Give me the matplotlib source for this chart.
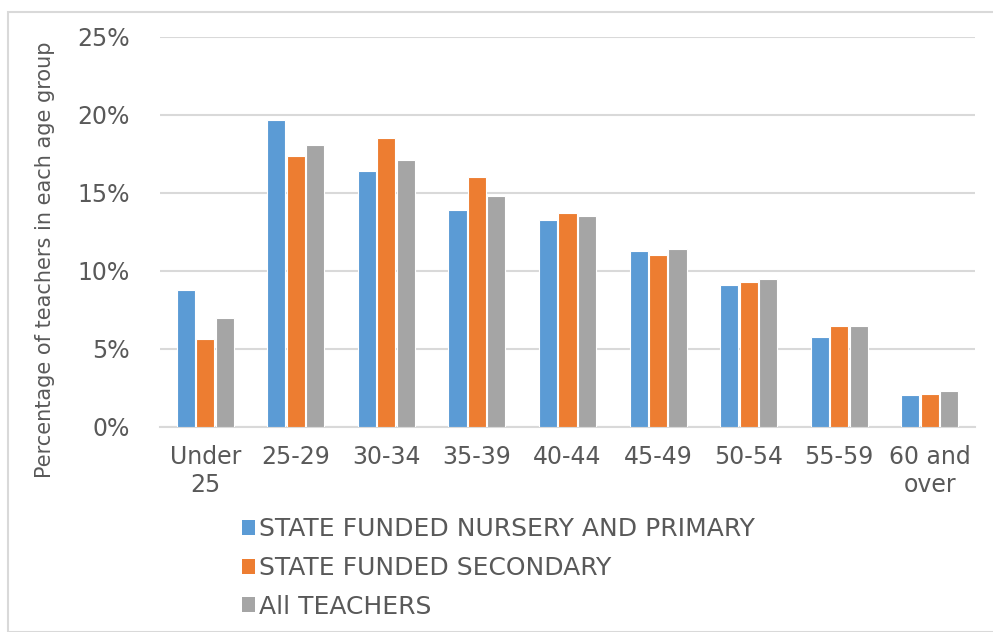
import numpy as np
import matplotlib.pyplot as plt
from matplotlib.patches import Patch, Rectangle

plt.rcParams['font.family'] = ['DejaVu Sans']

# data
age_groups = ["Under\n25", "25-29", "30-34", "35-39", "40-44",
              "45-49", "50-54", "55-59", "60 and\nover"]
nursery_primary = [8.8, 19.7, 16.4, 13.9, 13.3, 11.3, 9.1, 5.8, 2.05]
secondary = [5.65, 17.4, 18.5, 16.0, 13.7, 11.0, 9.3, 6.45, 2.1]
all_teachers = [7.0, 18.1, 17.1, 14.8, 13.5, 11.4, 9.5, 6.45, 2.3]
series_names = ["STATE FUNDED NURSERY AND PRIMARY",
                "STATE FUNDED SECONDARY", "All TEACHERS"]
yticks = [0, 5, 10, 15, 20, 25]

colors = ["#5b9bd5", "#ed7d31", "#a5a5a5"]
text_col = "#595959"
grid_col = "#d9d9d9"

fig = plt.figure(figsize=(9.93, 6.32), dpi=100)
# outer chart border
fig.patches.append(Rectangle((8 / 993, 0), 1.0, 1 - 12 / 632,
                             transform=fig.transFigure, fill=False,
                             edgecolor=grid_col, linewidth=1.5))
ax = fig.add_axes([160 / 993, 1 - 427 / 632, 815 / 993, 390 / 632])

x = np.arange(len(age_groups))
step = 0.215
width = 0.2
for i, (vals, c) in enumerate(zip([nursery_primary, secondary, all_teachers], colors)):
    ax.bar(x + (i - 1) * step, vals, width=width, color=c,
           edgecolor="white", linewidth=0.8, zorder=3)

ax.set_xlim(-0.5, len(age_groups) - 0.5)
ax.set_ylim(0, 25)
ax.set_yticks(yticks)
ax.set_yticklabels([f"{t}%" for t in yticks])
ax.set_xticks(x)
ax.set_xticklabels(age_groups, linespacing=1.2)
ax.tick_params(axis="both", length=0, labelsize=17, colors=text_col)
ax.tick_params(axis="y", pad=22)
ax.tick_params(axis="x", pad=13)
ax.grid(axis="y", color=grid_col, linewidth=1.5, zorder=0)
for s in ["top", "right", "left"]:
    ax.spines[s].set_visible(False)
ax.spines["bottom"].set_color(grid_col)
ax.spines["bottom"].set_linewidth(1.5)

fig.text(45 / 993, 1 - 260 / 632, "Percentage of teachers in each age group",
         rotation=90, ha="center", va="center", fontsize=15, color=text_col)

handles = [Patch(facecolor=c, edgecolor="none") for c in colors]
leg = fig.legend(handles, series_names, loc="upper left",
                 bbox_to_anchor=(219 / 993, 1 - 495 / 632), frameon=False,
                 fontsize=18, labelcolor=text_col, handlelength=0.55,
                 handleheight=0.55, handletextpad=0.15, labelspacing=0.58)

fig.savefig("out.png", dpi=100)
